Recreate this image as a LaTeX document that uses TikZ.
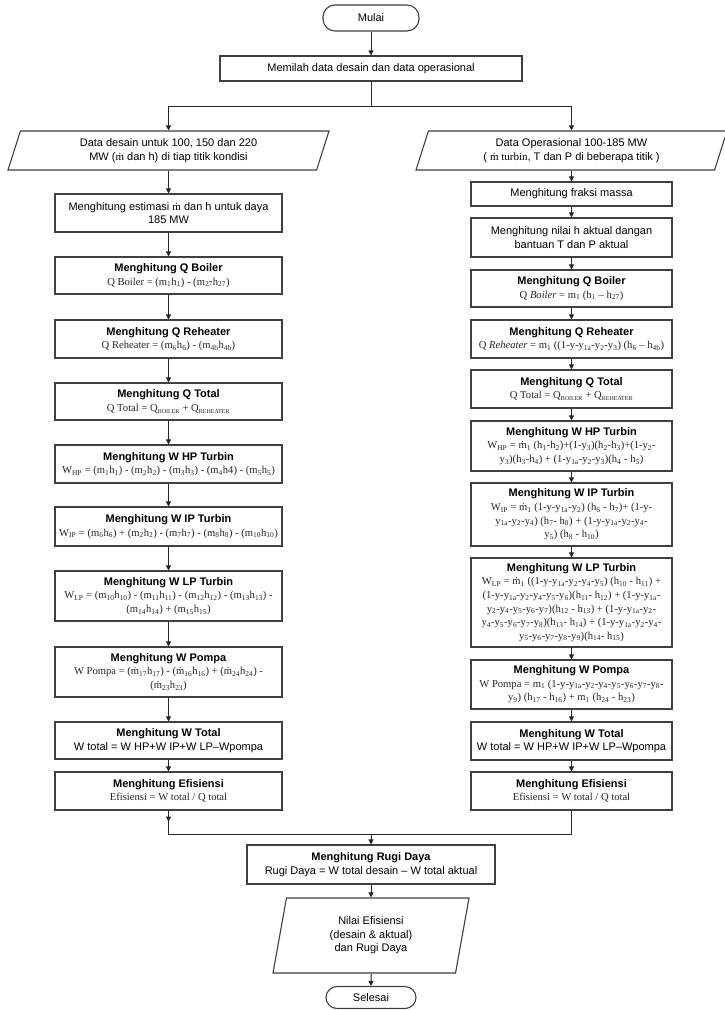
\documentclass[tikz,border=0pt]{standalone}
\usepackage{fontspec}
\setmainfont{Liberation Serif}
\setsansfont{Liberation Sans}
\usepackage{tikz}
\usetikzlibrary{arrows.meta, shapes.geometric}
\newcommand{\ix}[1]{\textsubscript{#1}}
\newcommand{\capsub}[1]{\textsubscript{\fontsize{6}{6}\selectfont #1}}
\newcommand{\mdot}{\accent"02D9 m}
\newcommand{\fml}[1]{{\rmfamily\fontsize{10.6}{13.6}\selectfont\color{black!85}#1}}
\tikzset{
  flow box/.style={
    draw=black!75,
    line width=1.1pt,
    fill=white,
    align=center,
    inner sep=2pt,
    font=\sffamily\fontsize{11}{13.6}\selectfont
  },
  left box/.style={flow box, minimum width=227pt},
  right box/.style={flow box, minimum width=201pt},
  data io/.style={
    flow box,
    trapezium,
    trapezium left angle=66,
    trapezium right angle=114,
    trapezium stretches body
  },
  terminal/.style={flow box, rounded corners=12pt},
  flow arrow/.style={
    -{Triangle[length=5pt,width=5pt]},
    line width=1pt,
    color=black!85
  },
  flow line/.style={line width=1pt, color=black!85}
}

\begin{document}
\begin{tikzpicture}[x=1pt, y=-1pt]
  \useasboundingbox (0,0) rectangle (725,1010);

  %% ---- awal ----
  \node[terminal, minimum width=96pt, minimum height=26pt] (mulai) at (371,18) {Mulai};
  \node[flow box, minimum width=302pt, minimum height=25pt] (pilah) at (371,68.5)
    {Memilah data desain dan data operasional};
  \coordinate (cabang) at (371,106);

  %% ---- kolom kiri: data desain ----
  \node[data io, minimum width=321pt, minimum height=39pt] (L0) at (168.5,150.5)
    {Data desain untuk 100, 150 dan 220\\MW ({\rmfamily\mdot} dan h) di tiap titik kondisi};
  \node[left box, minimum height=38pt] (L1) at (168.5,213)
    {Menghitung estimasi {\rmfamily\mdot} dan h untuk daya\\185 MW};
  \node[left box, minimum height=37pt] (L2) at (168.5,275.5)
    {\textbf{Menghitung Q Boiler}\\\fml{Q Boiler = (m\ix{1}h\ix{1}) - (m\ix{27}h\ix{27})}};
  \node[left box, minimum height=38pt] (L3) at (168.5,339)
    {\textbf{Menghitung Q Reheater}\\\fml{Q Reheater = (m\ix{6}h\ix{6}) - (m\ix{4b}h\ix{4b})}};
  \node[left box, minimum height=37pt] (L4) at (168.5,401.5)
    {\textbf{Menghitung Q Total}\\\fml{Q Total = Q\capsub{BOILER} + Q\capsub{REHEATER}}};
  \node[left box, minimum height=38pt] (L5) at (168.5,464)
    {\textbf{Menghitung W HP Turbin}\\\fml{W\ix{HP} = (m\ix{1}h\ix{1}) - (m\ix{2}h\ix{2}) - (m\ix{3}h\ix{3}) - (m\ix{4}h4) - (m\ix{5}h\ix{5})}};
  \node[left box, minimum height=39pt] (L6) at (168.5,526.5)
    {\textbf{Menghitung W IP Turbin}\\\fml{W\ix{IP} = (m\ix{6}h\ix{6}) + (m\ix{2}h\ix{2}) - (m\ix{7}h\ix{7}) - (m\ix{8}h\ix{8}) - (m\ix{10}h\ix{10})}};
  \node[left box, minimum height=50pt] (L7) at (168.5,596)
    {\textbf{Menghitung W LP Turbin}\\\fml{W\ix{LP} = (m\ix{10}h\ix{10}) - (m\ix{11}h\ix{11}) - (m\ix{12}h\ix{12}) - (m\ix{13}h\ix{13}) -}\\\fml{(m\ix{14}h\ix{14}) + (m\ix{15}h\ix{15})}};
  \node[left box, minimum height=50pt] (L8) at (168.5,672)
    {\textbf{Menghitung W Pompa}\\\fml{W Pompa = (\mdot\ix{17}h\ix{17}) - (\mdot\ix{16}h\ix{16}) + (\mdot\ix{24}h\ix{24}) -}\\\fml{(\mdot\ix{23}h\ix{23})}};
  \node[left box, minimum height=37pt] (L9) at (168.5,740.5)
    {\textbf{Menghitung W Total}\\W total = W HP+W IP+W LP–Wpompa};
  \node[left box, minimum height=38pt] (L10) at (168.5,791)
    {\textbf{Menghitung Efisiensi}\\\fml{Efisiensi = W total / Q total}};

  %% ---- kolom kanan: data operasional ----
  \node[data io, minimum width=311pt, minimum height=39pt] (R0) at (571.5,150.5)
    {Data Operasional 100-185 MW\\( {\rmfamily\mdot\ turbin}, T dan P di beberapa titik )};
  \node[right box, minimum height=24pt] (R1) at (571.5,194) {Menghitung fraksi massa};
  \node[right box, minimum height=39pt] (R2) at (571.5,237.5)
    {Menghitung nilai h aktual dangan\\bantuan T dan P aktual};
  \node[right box, minimum height=37pt] (R3) at (571.5,288.5)
    {\textbf{Menghitung Q Boiler}\\\fml{Q \textit{Boiler} = m\ix{1} (h\ix{1} – h\ix{27})}};
  \node[right box, minimum height=38pt] (R4) at (571.5,339)
    {\textbf{Menghitung Q Reheater}\\\fml{Q \textit{Reheater} = m\ix{1} ((1-y-y\ix{1a}-y\ix{2}-y\ix{3}) (h\ix{6} – h\ix{4b})}};
  \node[right box, minimum height=38pt] (R5) at (571.5,389)
    {\textbf{Menghitung Q Total}\\\fml{Q Total = Q\capsub{BOILER} + Q\capsub{REHEATER}}};
  \node[right box, minimum height=50pt] (R6) at (571.5,446)
    {\textbf{Menghitung W HP Turbin}\\\fml{W\ix{HP} = \mdot\ix{1} (h\ix{1}-h\ix{2})+(1-y\ix{3})(h\ix{2}-h\ix{3})+(1-y\ix{2}-}\\\fml{y\ix{3})(h\ix{3}-h\ix{4}) + (1-y\ix{1a}-y\ix{2}-y\ix{3})(h\ix{4} - h\ix{5})}};
  \node[right box, minimum height=63pt] (R7) at (571.5,514.5)
    {\textbf{Menghitung W IP Turbin}\\\fml{W\ix{IP} = \mdot\ix{1} (1-y-y\ix{1a}-y\ix{2}) (h\ix{6} - h\ix{7})+ (1-y-}\\\fml{y\ix{1a}-y\ix{2}-y\ix{4}) (h\ix{7}- h\ix{8}) + (1-y-y\ix{1a}-y\ix{2}-y\ix{4}-}\\\fml{y\ix{5}) (h\ix{8} - h\ix{10})}};
  \node[right box, minimum height=89pt] (R8) at (571.5,602.5)
    {\textbf{Menghitung W LP Turbin}\\\fml{W\ix{LP} = \mdot\ix{1} ((1-y-y\ix{1a}-y\ix{2}-y\ix{4}-y\ix{5}) (h\ix{10} - h\ix{11}) +}\\\fml{(1-y-y\ix{1a}-y\ix{2}-y\ix{4}-y\ix{5}-y\ix{6})(h\ix{11}- h\ix{12}) + (1-y-y\ix{1a}-}\\\fml{y\ix{2}-y\ix{4}-y\ix{5}-y\ix{6}-y\ix{7})(h\ix{12} - h\ix{13}) + (1-y-y\ix{1a}-y\ix{2}-}\\\fml{y\ix{4}-y\ix{5}-y\ix{6}-y\ix{7}-y\ix{8})(h\ix{13}- h\ix{14}) + (1-y-y\ix{1a}-y\ix{2}-y\ix{4}-}\\\fml{y\ix{5}-y\ix{6}-y\ix{7}-y\ix{8}-y\ix{9})(h\ix{14}- h\ix{15})}};
  \node[right box, minimum height=49pt] (R9) at (571.5,684.5)
    {\textbf{Menghitung W Pompa}\\\fml{W Pompa = m\ix{1} (1-y-y\ix{1a}-y\ix{2}-y\ix{4}-y\ix{5}-y\ix{6}-y\ix{7}-y\ix{8}-}\\\fml{y\ix{9}) (h\ix{17} - h\ix{16}) + m\ix{1} (h\ix{24} - h\ix{23})}};
  \node[right box, minimum height=38pt] (R10) at (571.5,741)
    {\textbf{Menghitung W Total}\\W total = W HP+W IP+W LP–Wpompa};
  \node[right box, minimum height=38pt] (R11) at (571.5,791)
    {\textbf{Menghitung Efisiensi}\\\fml{Efisiensi = W total / Q total}};

  %% ---- akhir ----
  \coordinate (gabung) at (371,834);
  \node[flow box, minimum width=248pt, minimum height=39pt] (rugi) at (371,864.5)
    {\textbf{Menghitung Rugi Daya}\\Rugi Daya = W total desain – W total aktual};
  \node[data io, trapezium left angle=72, trapezium right angle=108,
        minimum width=196pt, minimum height=75pt] (hasil) at (371,935.5)
    {Nilai Efisiensi\\(desain \& aktual)\\dan Rugi Daya};
  \node[terminal, rounded corners=11pt, minimum width=90pt, minimum height=22pt] (selesai) at (371,997.5) {Selesai};

  %% ---- panah ----
  \draw[flow arrow] (mulai) -- (pilah);
  \draw[flow line] (pilah) -- (cabang);
  \draw[flow arrow] (cabang) -| (L0);
  \draw[flow arrow] (cabang) -| (R0);
  \foreach \i in {0,...,9} {
    \pgfmathtruncatemacro{\j}{\i+1}
    \draw[flow arrow] (L\i.south -| L\j.north) -- (L\j.north);
  }
  \foreach \i in {0,...,10} {
    \pgfmathtruncatemacro{\j}{\i+1}
    \draw[flow arrow] (R\i.south -| R\j.north) -- (R\j.north);
  }
  \draw[flow arrow] (L10.south) -- ++(0,11);
  \draw[flow line] (L10.south) |- (gabung) -| (R11.south);
  \draw[flow arrow] (gabung) -- (rugi);
  \draw[flow arrow] (rugi) -- (hasil);
  \draw[flow arrow] (hasil) -- (selesai);

\end{tikzpicture}
\end{document}
